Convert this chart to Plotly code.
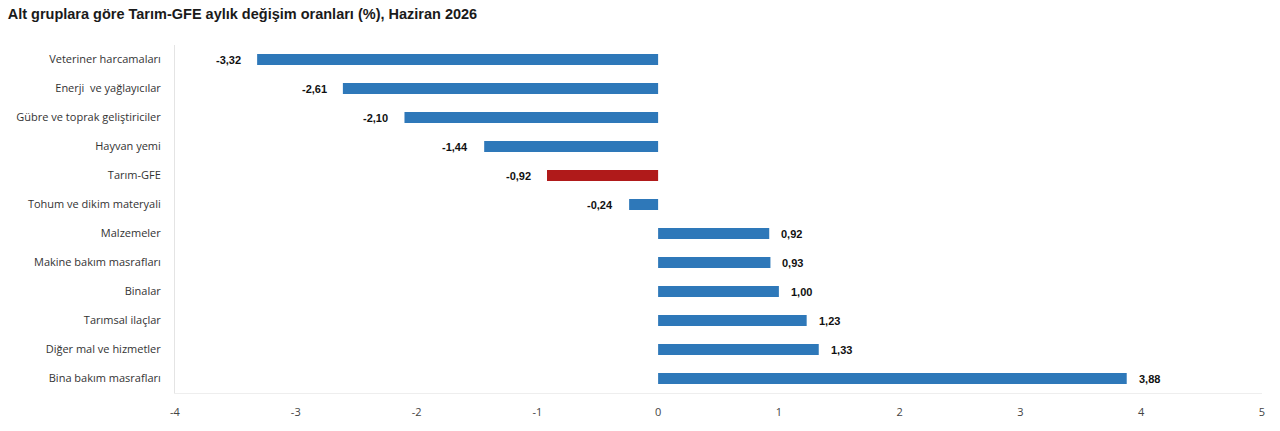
import plotly.graph_objects as go

categories = ["Veteriner harcamaları", "Enerji  ve yağlayıcılar", "Gübre ve toprak geliştiriciler",
              "Hayvan yemi", "Tarım-GFE", "Tohum ve dikim materyali", "Malzemeler",
              "Makine bakım masrafları", "Binalar", "Tarımsal ilaçlar",
              "Diğer mal ve hizmetler", "Bina bakım masrafları"]
values = [-3.32, -2.61, -2.10, -1.44, -0.92, -0.24, 0.92, 0.93, 1.00, 1.23, 1.33, 3.88]
tick_vals = [-4, -3, -2, -1, 0, 1, 2, 3, 4, 5]
tick_labels = ["-4", "-3", "-2", "-1", "0", "1", "2", "3", "4", "5"]

blue = "#2e78b9"
red = "#b01a1a"
colors = [red if c == "Tarım-GFE" else blue for c in categories]

fig = go.Figure(go.Bar(
    x=values, y=categories, orientation="h",
    marker=dict(color=colors, line_width=0),
    hoverinfo="skip"))

# value labels with a bit of space from the bar end
for c, v in zip(categories, values):
    fig.add_annotation(
        x=v, y=c, text="<b>" + f"{v:.2f}".replace(".", ",") + "</b>",
        showarrow=False, xanchor="left" if v > 0 else "right",
        xshift=10 if v > 0 else -14,
        font=dict(family="Arial, Liberation Sans", size=11, color="#111"))

fig.update_layout(
    width=1280, height=431,
    margin=dict(l=175, r=18, t=45, b=32),
    paper_bgcolor="white", plot_bgcolor="white",
    bargap=0.62, showlegend=False,
    title=dict(text="<b>Alt gruplara göre Tarım-GFE aylık değişim oranları (%), Haziran 2026</b>",
               x=0.006, xanchor="left", y=0.967, yanchor="middle",
               font=dict(family="Arial, Liberation Sans", size=14.5, color="#1a1a1a")),
    xaxis=dict(range=[-4, 5], tickvals=tick_vals, ticktext=tick_labels,
               showgrid=False, zeroline=False,
               showline=True, linecolor="#eeeeee", linewidth=1, ticks="",
               ticklabelstandoff=9,
               tickfont=dict(family="Open Sans", size=11, color="#444")),
    yaxis=dict(autorange="reversed", showgrid=False, zeroline=False,
               showline=True, linecolor="#e4e4e4", linewidth=1, ticks="",
               ticklabelstandoff=11,
               tickfont=dict(family="Open Sans", size=11, color="#333")),
)

# drop the default 8px body margin so the figure sits at the page corner
fig.write_html("out.html", config={"displayModeBar": False},
               post_script="document.body.style.margin='0';document.body.style.overflow='hidden';")
